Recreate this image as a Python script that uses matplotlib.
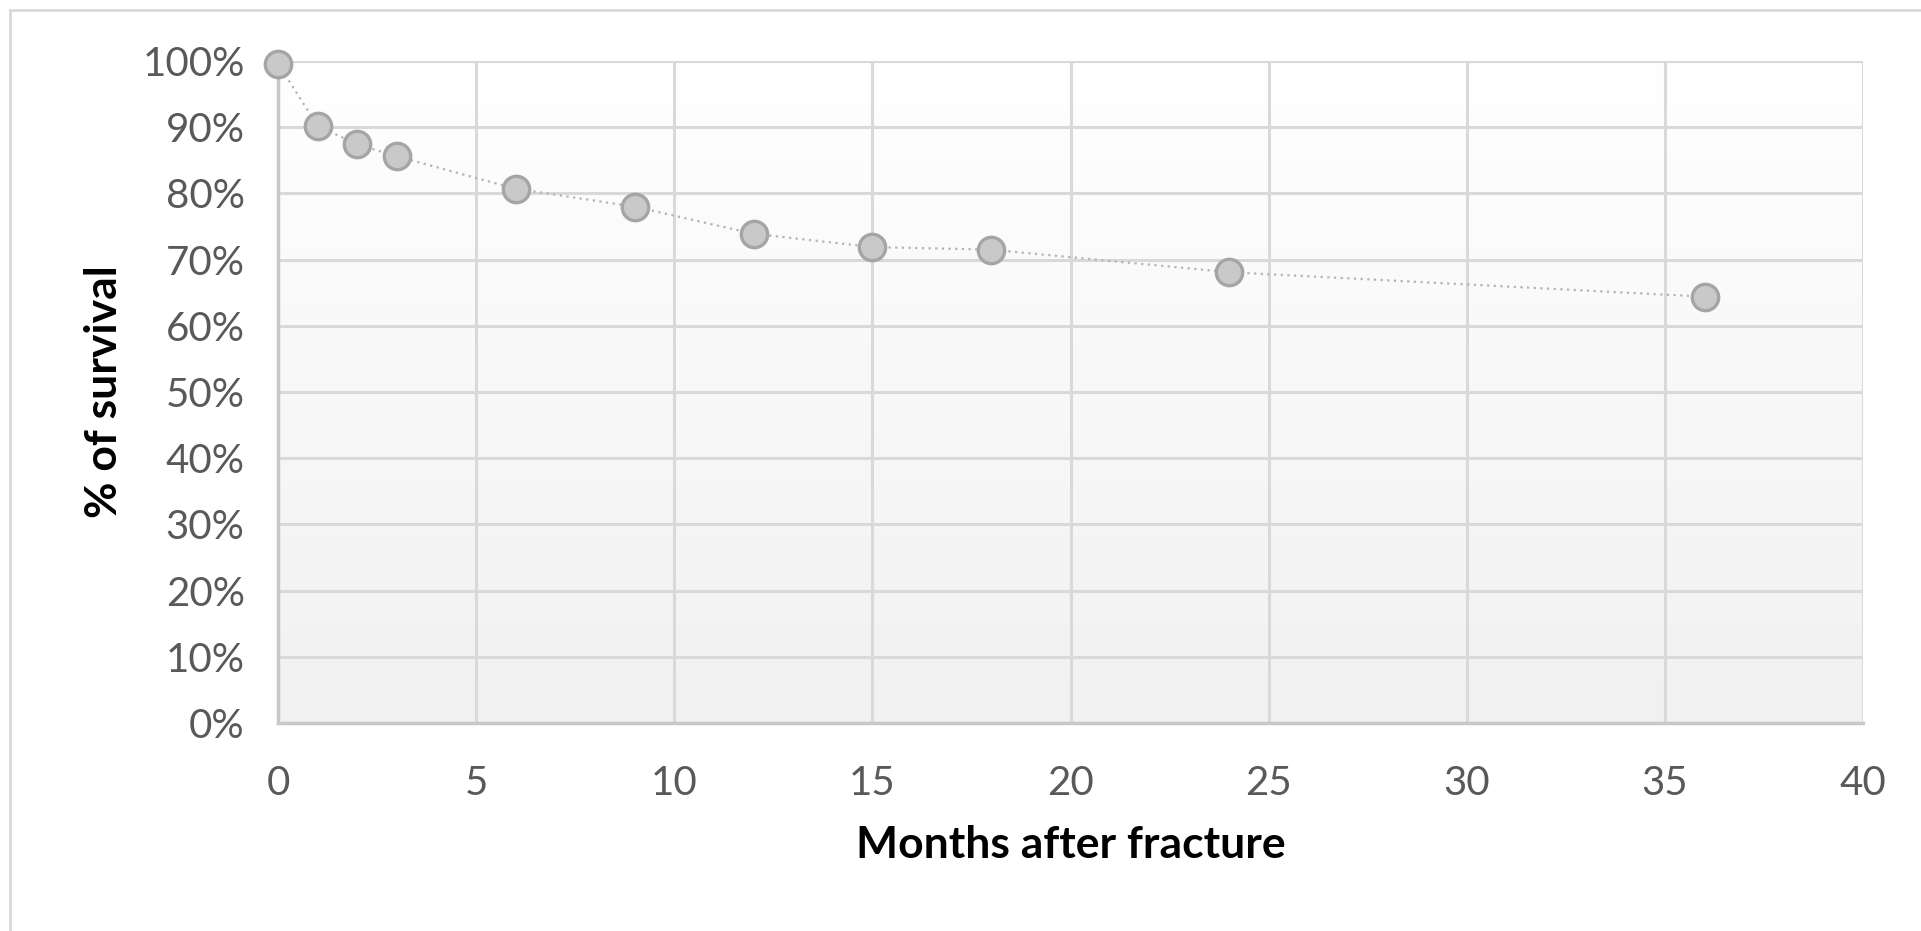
import numpy as np
import matplotlib.pyplot as plt
from matplotlib.ticker import FuncFormatter
from matplotlib.colors import LinearSegmentedColormap

# Survival data
months = [0, 1, 2, 3, 6, 9, 12, 15, 18, 24, 36]
survival = [99.6, 90.2, 87.4, 85.6, 80.7, 78.0, 73.9, 71.9, 71.5, 68.1, 64.4]

x_ticks = [0, 5, 10, 15, 20, 25, 30, 35, 40]
y_ticks = [0, 10, 20, 30, 40, 50, 60, 70, 80, 90, 100]

plt.rcParams['font.family'] = ['Lato', 'DejaVu Sans']

fig = plt.figure(figsize=(19.21, 9.31), dpi=100)
ax = fig.add_axes([278 / 1921, 1 - 723 / 931, (1863 - 278) / 1921, (723 - 61) / 931])

# outer chart border (only left and top edges show in the reference)
fig.add_artist(plt.Line2D([10 / 1921, 10 / 1921], [0, 1 - 10 / 931],
                          transform=fig.transFigure, color='#d9d9d9', linewidth=2))
fig.add_artist(plt.Line2D([10 / 1921, 1], [1 - 10 / 931, 1 - 10 / 931],
                          transform=fig.transFigure, color='#d9d9d9', linewidth=2))

# background gradient: white at top, light grey at bottom
bg = LinearSegmentedColormap.from_list('bg', ['#f1f1f1', '#ffffff'])
grad = np.linspace(0, 1, 256).reshape(-1, 1)
ax.imshow(grad, extent=[0, 40, 0, 100], aspect='auto', cmap=bg,
          origin='lower', zorder=0)

ax.set_xlim(0, 40)
ax.set_ylim(0, 100)
ax.set_xticks(x_ticks)
ax.set_yticks(y_ticks)
ax.yaxis.set_major_formatter(FuncFormatter(lambda v, p: f'{v:.0f}%'))
ax.grid(True, color='#d9d9d9', linewidth=2.2, zorder=1)
ax.set_axisbelow(True)
for side in ['left', 'bottom']:
    ax.spines[side].set_color('#c8c8c8')
    ax.spines[side].set_linewidth(2.5)
for side in ['top', 'right']:
    ax.spines[side].set_visible(False)
ax.tick_params(length=0, labelsize=29, labelcolor='#595959')
ax.tick_params(axis='x', pad=30)
ax.tick_params(axis='y', pad=24)

ax.plot(months, survival, linestyle=(0, (1, 2)), color='#b3b3b3', linewidth=1.6,
        marker='o', markersize=19, markerfacecolor='#c9c9c9',
        markeredgecolor='#a5a5a5', markeredgewidth=2.4, zorder=3, clip_on=False)

ax.set_xlabel('Months after fracture', fontsize=32, fontweight='bold', va='center')
ax.xaxis.set_label_coords(0.5, (723 - 845) / 662)
ax.set_ylabel('% of survival', fontsize=32, fontweight='bold', va='center')
ax.yaxis.set_label_coords((104 - 278) / 1585, 0.5)

fig.savefig('out.png', dpi=100)
